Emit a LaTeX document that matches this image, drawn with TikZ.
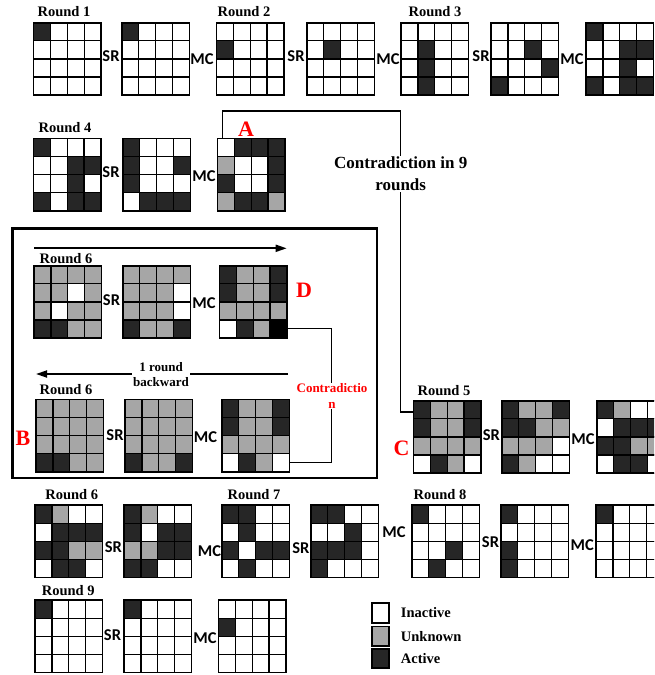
\documentclass[tikz,border=0pt]{standalone}
\usepackage{fontspec}
\setmainfont{Liberation Serif}
\newfontfamily\calfont{Carlito}
\usetikzlibrary{positioning,arrows.meta}

\definecolor{cw}{RGB}{255,255,255}
\definecolor{cg}{RGB}{166,166,166}
\definecolor{ck}{RGB}{38,38,38}
\definecolor{cK}{RGB}{0,0,0}

\newcommand{\cellw}{16.9}
\newcommand{\cellh}{18.1}

% one 4x4 state: name, left, top, cells row by row (w/g/k/K)
\newcommand{\stategrid}[4]{%
  \node[gridframe, anchor=north west] (#1) at (#2,#3) {};
  \foreach \st [count=\i from 0] in {#4} {
    \pgfmathtruncatemacro{\cc}{mod(\i,4)}
    \pgfmathtruncatemacro{\rr}{div(\i,4)}
    \draw[cellline, fill=c\st] ([shift={(\cc*\cellw,\rr*\cellh)}]#1.north west) rectangle ++(\cellw,\cellh);
  }
  \draw[frameline] (#1.north west) rectangle (#1.south east);
}

\begin{document}
\begin{tikzpicture}[
  x=1pt, y=-1pt,
  gridframe/.style = {minimum width=67.6pt, minimum height=72.4pt, inner sep=0pt, outer sep=0pt},
  cellline/.style  = {line width=1.2pt, draw=black},
  frameline/.style = {line width=1.6pt, draw=black},
  roundlbl/.style  = {font=\fontsize{14.5}{16}\selectfont\bfseries, inner sep=0pt},
  oplbl/.style     = {font=\calfont\fontsize{16.5}{18}\selectfont\bfseries, inner sep=0pt},
  mark/.style      = {},
  tag/.style       = {font=\fontsize{22}{24}\selectfont\bfseries, text=red, inner sep=0pt},
  link/.style      = {line width=1.1pt, draw=black},
  flowarrow/.style = {line width=1.8pt, -{Triangle[length=11pt,width=7pt]}},
  legbox/.style    = {draw, line width=1.8pt, minimum width=17.7pt, minimum height=19.3pt, inner sep=0pt},
  legtext/.style   = {font=\fontsize{14.5}{16}\selectfont\bfseries, inner sep=0pt, anchor=west}
]
\useasboundingbox (0,0) rectangle (654,675);
\clip (0,0) rectangle (654,675);

% ---- ROW 1: rounds 1 to 3 ----
\stategrid{g1a}{33.5}{22.7}{k,w,w,w, w,w,w,w, w,w,w,w, w,w,w,w}
\stategrid{g1b}{121.7}{22.7}{k,w,w,w, w,w,w,w, w,w,w,w, w,w,w,w}
\stategrid{g2a}{216.3}{22.7}{w,w,w,w, k,w,w,w, w,w,w,w, w,w,w,w}
\stategrid{g2b}{306.7}{22.7}{w,w,w,w, w,k,w,w, w,w,w,w, w,w,w,w}
\stategrid{g3a}{401}{22.7}{w,w,w,w, w,k,w,w, w,k,w,w, w,k,w,w}
\stategrid{g3b}{491}{22.7}{w,w,w,w, w,w,k,w, w,w,w,k, k,w,w,w}
\stategrid{g3c}{586}{22.7}{k,w,w,w, w,w,k,k, w,w,k,w, k,w,k,k}
\node[roundlbl] (lr1) at (64,12) {Round 1};
\node[roundlbl] (lr2) at (244,12) {Round 2};
\node[roundlbl] (lr3) at (435,12) {Round 3};
\node[oplbl] (sr1) at (111,56.5) {SR};
\node[oplbl] (mc1) at (202,59.5) {MC};
\node[oplbl] (sr2) at (296,56.5) {SR};
\node[oplbl] (mc2) at (388,59.5) {MC};
\node[oplbl] (sr3) at (481,56.5) {SR};
\node[oplbl] (mc3) at (572,59.5) {MC};

% ---- ROW 2: round 4 ----
\stategrid{g4a}{33.3}{138.3}{k,w,w,w, w,w,k,k, w,w,k,w, k,w,k,k}
\stategrid{g4b}{122.7}{138.3}{k,w,w,w, k,w,w,k, k,w,w,w, w,k,k,k}
\stategrid{g4c}{217.3}{138.3}{w,k,k,k, g,w,w,k, k,w,w,k, g,k,k,g}
\node[roundlbl] (lr4) at (65,127.7) {Round 4};
\node[oplbl] (sr4) at (111,171.7) {SR};
\node[oplbl] (mc4) at (204,175.7) {MC};
\node[tag] (tagA) at (246,129) {A};

% ---- BOX: forward and backward at round 6 ----
\draw[line width=2.5pt] (12.5,228.5) rectangle (377,478);
\coordinate (fwdA) at (34,248.3);
\coordinate (fwdB) at (286.7,248.3);
\draw[flowarrow] (fwdA) -- (fwdB);
\stategrid{bfa}{34}{265.7}{g,g,g,g, g,g,w,g, g,w,g,g, k,k,g,g}
\stategrid{bfb}{122.7}{265.7}{g,g,g,g, g,g,g,w, g,g,g,w, k,g,g,k}
\stategrid{bfc}{219.3}{265.7}{k,g,g,k, k,g,g,k, g,g,g,g, w,k,g,K}
\node[roundlbl] (lb1) at (66,258.3) {Round 6};
\node[oplbl] (sr5) at (111.5,300) {SR};
\node[oplbl] (mc5) at (204,303.3) {MC};
\node[tag] (tagD) at (304,290) {D};

\coordinate (bwdA) at (288,374);
\coordinate (bwdB) at (36,374);
\draw[flowarrow] (bwdA) -- (bwdB);
\node[font=\fontsize{13}{15}\selectfont\bfseries, fill=white, inner sep=1pt, align=center]
  (back) at (161,375) {1 round\\backward};
\stategrid{bba}{36}{399.3}{g,g,g,g, g,g,g,g, g,g,g,g, k,k,g,g}
\stategrid{bbb}{125}{399.3}{g,g,g,g, g,g,g,g, g,g,g,g, k,g,g,k}
\stategrid{bbc}{221.7}{399.3}{k,g,g,k, k,g,g,k, g,g,g,g, w,k,g,w}
\node[roundlbl] (lb2) at (66,390) {Round 6};
\node[oplbl] (sr6) at (115,435) {SR};
\node[oplbl] (mc6) at (205.5,436.7) {MC};
\node[tag] (tagB) at (23,438) {B};

\draw[link] ([yshift=-27pt]bfc.east) -- ++(44.8,0) |- ([yshift=-27pt]bbc.east);
\node[font=\fontsize{13}{15.5}\selectfont\bfseries, text=red, fill=white, inner sep=1pt, align=center]
  (contr) at (332,396) {Contradictio\\n};

% ---- ROUND 5 ----
\stategrid{g5a}{413.3}{400.7}{k,g,g,k, k,g,g,k, g,g,g,g, w,k,g,w}
\stategrid{g5b}{501.7}{400.7}{k,g,g,k, k,k,g,g, g,g,g,w, k,g,w,w}
\stategrid{g5c}{596.7}{400.7}{k,g,w,w, w,k,k,k, k,k,g,g, w,k,k,w}
\node[roundlbl] (lr5) at (444,390.7) {Round 5};
\node[oplbl] (sr7) at (491.3,435) {SR};
\node[oplbl] (mc7) at (583,439) {MC};
\node[tag] (tagC) at (401.5,448.3) {C};

% ---- contradiction link from A to C ----
\coordinate (turnA) at (400.7,111);
\coordinate (entC) at ([yshift=-11.3pt]g5a.north west);
\draw[link] ([xshift=5.4pt]g4c.north west) -- ([xshift=5.4pt]g4c.north west |- turnA)
  -- (turnA) -- (turnA |- entC) -- (entC);
\node[font=\fontsize{17}{22}\selectfont\bfseries, fill=white, inner sep=1pt, align=center]
  (c9) at (400.7,174) {Contradiction in 9\\rounds};

% ---- ROW 6: rounds 6 to 8 ----
\stategrid{g6a}{35}{505}{k,g,w,w, w,k,k,k, k,k,g,g, w,k,k,w}
\stategrid{g6b}{124}{505}{k,g,w,w, k,w,k,k, g,g,k,k, k,k,w,w}
\stategrid{g7a}{221.7}{505}{k,k,w,w, w,k,w,w, k,w,k,k, w,k,w,w}
\stategrid{g7b}{310.7}{505}{k,k,w,w, w,w,k,w, k,k,k,w, k,w,w,w}
\stategrid{g8a}{411.7}{505}{k,w,w,w, w,w,w,w, w,w,k,w, w,k,w,w}
\stategrid{g8b}{500.7}{505}{k,w,w,w, w,w,w,w, k,w,w,w, k,w,w,w}
\stategrid{g8c}{596}{505}{k,w,w,w, w,w,w,w, w,w,w,w, w,w,w,w}
\node[roundlbl] (lr6) at (71.7,495) {Round 6};
\node[roundlbl] (lr7) at (254,495) {Round 7};
\node[roundlbl] (lr8) at (440,495) {Round 8};
\node[oplbl] (sr8) at (113.3,546.7) {SR};
\node[oplbl] (mc8) at (209.5,550.7) {MC};
\node[oplbl] (sr9) at (300.8,548) {SR};
\node[oplbl] (mc9) at (394,531.7) {MC};
\node[oplbl] (sr10) at (490.5,541.7) {SR};
\node[oplbl] (mc10) at (582.3,545) {MC};

% ---- ROW 7: round 9 ----
\stategrid{g9a}{35}{600}{k,w,w,w, w,w,w,w, w,w,w,w, w,w,w,w}
\stategrid{g9b}{124}{600}{k,w,w,w, w,w,w,w, w,w,w,w, w,w,w,w}
\stategrid{g9c}{218.3}{600}{w,w,w,w, k,w,w,w, w,w,w,w, w,w,w,w}
\node[roundlbl] (lr9) at (68.3,590.7) {Round 9};
\node[oplbl] (sr11) at (112.5,635) {SR};
\node[oplbl] (mc11) at (205,638.3) {MC};

% ---- legend ----
\node[legbox, fill=cw] (lw) at (380.5,613) {};
\node[legbox, fill=cg] (lg) at (380.5,636.2) {};
\node[legbox, fill=ck] (lk) at (380.5,658.7) {};
\node[legtext, right=10.5pt of lw] (tw) {Inactive};
\node[legtext, right=10.5pt of lg] (tg) {Unknown};
\node[legtext, right=10.5pt of lk] (tk) {Active};

\end{tikzpicture}
\end{document}
